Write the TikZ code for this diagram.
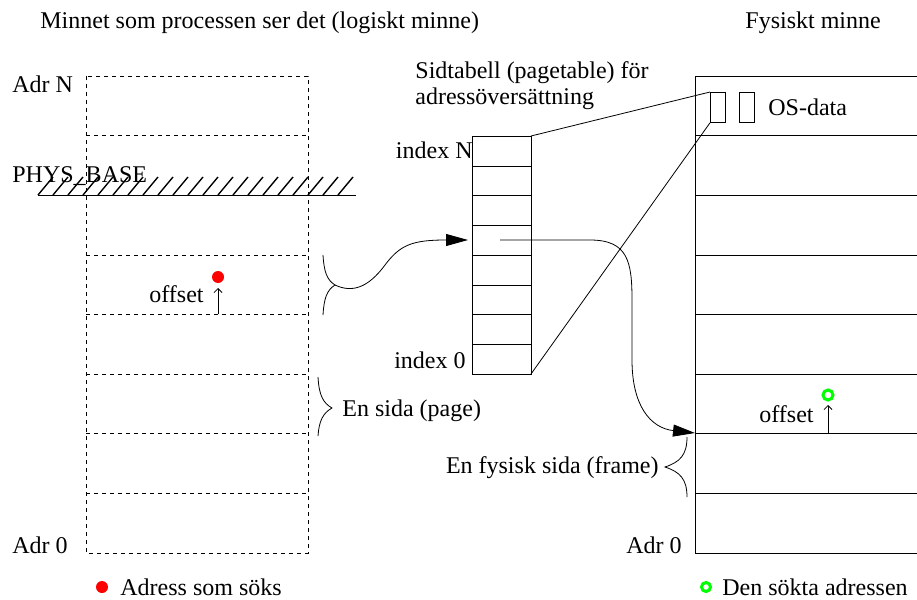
\documentclass[tikz,border=0pt]{standalone}
\usepackage{fontspec}
\setmainfont{Liberation Serif}
\usetikzlibrary{arrows.meta}

\begin{document}
\begin{tikzpicture}[x=1pt, y=-1pt, line width=0.8pt,
  every node/.style={font=\fontsize{24}{27}\selectfont, inner sep=0pt},
  txt/.style={anchor=base west},
  rtxt/.style={anchor=base east},
  ramdash/.style={dash pattern=on 4pt off 4pt},
  bigarrow/.style={-{Triangle[length=22pt,width=12pt]}},
  offarrow/.style={-{Straight Barb[length=4pt,width=8pt]}},
  osbox/.style={draw, minimum width=15pt, minimum height=30pt, anchor=north west}]
\useasboundingbox (0,0) rectangle (917,599);

% logiskt minne
\draw[ramdash] (86,76) rectangle (308,553);
\foreach \y in {135,255,314,374,433,493}
  \draw[ramdash] (86,\y) -- (308,\y);
\draw (38,195) -- (356,195);
\foreach \x in {38,53,...,340}
  \draw[line width=1.4pt] (\x,195) -- ++(15,-18);

\node[txt] (titleL) at (40,29) {Minnet som processen ser det (logiskt minne)};
\node[txt] (adrN) at (12,93) {Adr N};
\node[txt] (physbase) at (12,182) {PHYS\_BASE};
\node[txt] (adr0L) at (12,553) {Adr 0};

\fill[red] (218,277) circle (6pt);
\draw[offarrow] (218,314) -- (218,288);
\node[rtxt] (offL) at (204,302) {offset};

% klammer for sidan
\coordinate (pagetip) at (335,285);
\draw (323,255) .. controls (324,272) and (327,280) .. (pagetip)
  .. controls (327,290) and (324,298) .. (323,315);
\draw (318,377) .. controls (319,395) and (323,403) .. (332,408)
  .. controls (323,413) and (319,421) .. (318,436);
\node[txt] (sida) at (342,416) {En sida (page)};

% sidtabell
\node[txt] (tabtext1) at (415,79) {Sidtabell (pagetable) för};
\node[txt] (tabtext2) at (415,104) {adressöversättning};
\draw (472,136) rectangle (531,374);
\foreach \y in {166,195,225,255,285,314,344}
  \draw (472,\y) -- (531,\y);
\coordinate (tabNE) at (531,136);
\coordinate (tabSE) at (531,374);
\coordinate (tabin) at (468,240);
\coordinate (rowstart) at (500,240);
\node[rtxt] (idxN) at (473,158) {index N};
\node[rtxt] (idx0) at (466,368) {index 0};

\draw[bigarrow] (pagetip) .. controls (352,293) and (368,288) .. (385,265)
  .. controls (400,245) and (412,240) .. (tabin);

% fysiskt minne
\node[txt] (titleR) at (745,29) {Fysiskt minne};
\draw (695,76) rectangle (920,553);
\foreach \y in {135,195,255,314,374,433,493}
  \draw (695,\y) -- (920,\y);
\coordinate (frametop) at (695,433);
\node[osbox] (os1) at (710,92) {};
\node[osbox] (os2) at (739,92) {};
\node[txt] (osdata) at (768,115) {OS-data};
\node[txt] (adr0R) at (626,553) {Adr 0};

\draw (tabNE) -- (os1.north west);
\draw (tabSE) -- (os1.south west);

\draw[bigarrow] (rowstart) -- (590,240) .. controls (628,240) and (632,262) .. (632,300)
  -- (632,360) .. controls (632,405) and (650,428) .. (frametop);

\draw (687,437) .. controls (687,455) and (680,462) .. (665,467)
  .. controls (680,472) and (687,479) .. (687,497);
\node[rtxt] (frame) at (659,473) {En fysisk sida (frame)};

\draw[green, line width=3pt] (828,395) circle (5pt);
\draw[offarrow] (828,433) -- (828,405);
\node[rtxt] (offR) at (814,422) {offset};

% forklaring
\fill[red] (102,587) circle (6pt);
\node[txt] (legL) at (120,595) {Adress som söks};
\draw[green, line width=3pt] (706,587) circle (4.5pt);
\node[txt] (legR) at (722,595) {Den sökta adressen};
\end{tikzpicture}
\end{document}
